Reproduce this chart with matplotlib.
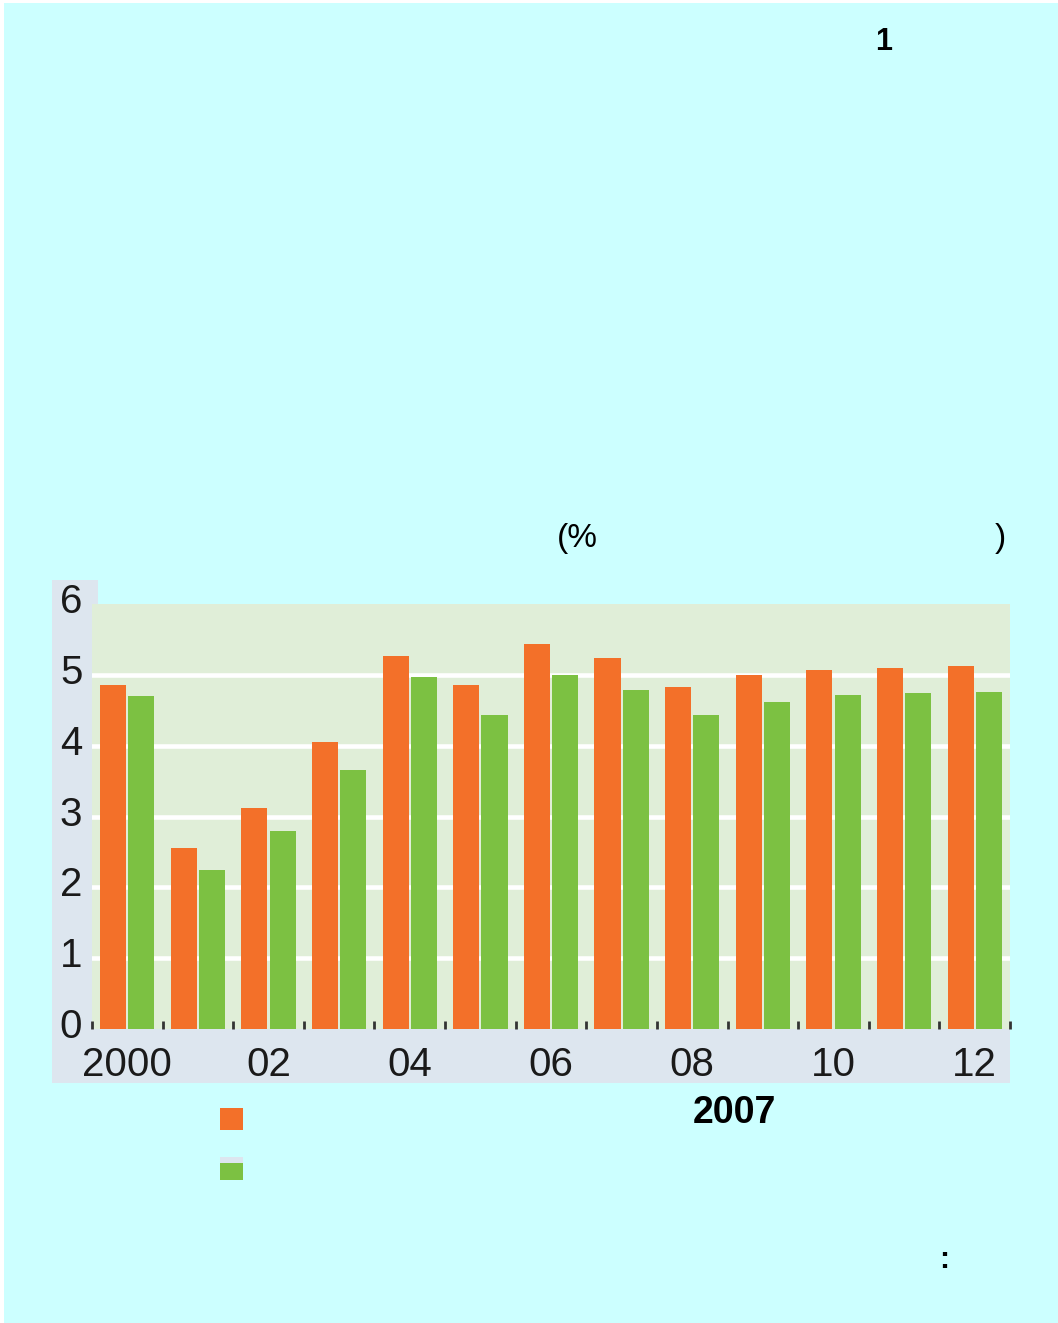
import numpy as np
import matplotlib.pyplot as plt
from matplotlib.patches import Rectangle
import matplotlib.transforms as mtransforms

plt.rcParams['font.family'] = ['Liberation Sans', 'DejaVu Sans']

# data
years = np.arange(2000, 2013)
orange_vals = [4.86, 2.55, 3.12, 4.05, 5.27, 4.86, 5.44, 5.24, 4.83, 5.00, 5.07, 5.10, 5.13]
green_vals = [4.70, 2.24, 2.80, 3.65, 4.97, 4.43, 5.00, 4.79, 4.43, 4.62, 4.72, 4.75, 4.76]
xtick_labels = ['2000', '02', '04', '06', '08', '10', '12']
ytick_vals = [0, 1, 2, 3, 4, 5, 6]

W, H = 1058, 1323
cyan = '#CCFFFF'
orange = '#F37029'
green = '#7CC142'
panel = '#E0EED8'
strip = '#DDE6EF'

fig = plt.figure(figsize=(W / 100, H / 100), dpi=100, facecolor='white')

def fig_rect(x0, y0, x1, y1, color, z=0):
    # pixel box -> figure fraction rectangle
    fig.patches.append(Rectangle((x0 / W, 1 - y1 / H), (x1 - x0) / W, (y1 - y0) / H,
                                 transform=fig.transFigure, facecolor=color,
                                 edgecolor='none', zorder=z))

fig_rect(4, 3, W, H, cyan, 0)
fig_rect(52, 580, 98, 1083, strip, 1)
fig_rect(52, 1029, 1010, 1083, strip, 1)

ax = fig.add_axes([92 / W, 1 - 1029 / H, (1010 - 92) / W, (1029 - 604) / H])
ax.set_facecolor(panel)
ax.set_zorder(2)

x = np.arange(len(years))
w = 0.37
ax.bar(x - 0.2, orange_vals, width=w, color=orange, zorder=3)
ax.bar(x + 0.2, green_vals, width=w, color=green, zorder=3)

for v in ytick_vals[1:-1]:
    ax.axhline(v, color='white', lw=3.3, zorder=1)

ax.set_xlim(-0.5, len(years) - 0.5)
ax.set_ylim(0, 6)
for s in ax.spines.values():
    s.set_visible(False)

ax.set_xticks(x[::2])
ax.set_xticklabels(xtick_labels, fontsize=29, color='#1a1a1a')
ax.set_xticks(np.arange(-0.5, len(years)), minor=True)
ax.tick_params(axis='x', which='major', length=0, pad=12)
ax.tick_params(axis='x', which='minor', direction='in', length=6, width=2,
               color='#333333', bottom=True)

ax.set_yticks(ytick_vals)
ax.set_yticklabels([str(v) for v in ytick_vals], fontsize=29, color='#1a1a1a')
ax.tick_params(axis='y', length=0, pad=7)
shift = mtransforms.ScaledTranslation(0, 6 / 100, fig.dpi_scale_trans)
for lab in ax.get_yticklabels():
    lab.set_transform(lab.get_transform() + shift)

# legend squares
fig_rect(220, 1108, 243, 1130, orange, 3)
fig_rect(220, 1157, 243, 1163, '#DDE6EF', 3)
fig_rect(220, 1163, 243, 1180, green, 3)

# leftover texts
fig.text(884 / W, 1 - 42 / H, '1', fontsize=22, fontweight='bold', ha='center', va='center')
fig.text(557 / W, 1 - 538 / H, '(%', fontsize=24, ha='left', va='center')
fig.text(1000 / W, 1 - 538 / H, ')', fontsize=24, ha='center', va='center')
fig.text(734 / W, 1 - 1113 / H, '2007', fontsize=27, fontweight='bold', ha='center', va='center')
fig.text(944 / W, 1 - 1260 / H, ':', fontsize=22, fontweight='bold', ha='center', va='center')

fig.savefig('out.png', dpi=100, facecolor=fig.get_facecolor())
